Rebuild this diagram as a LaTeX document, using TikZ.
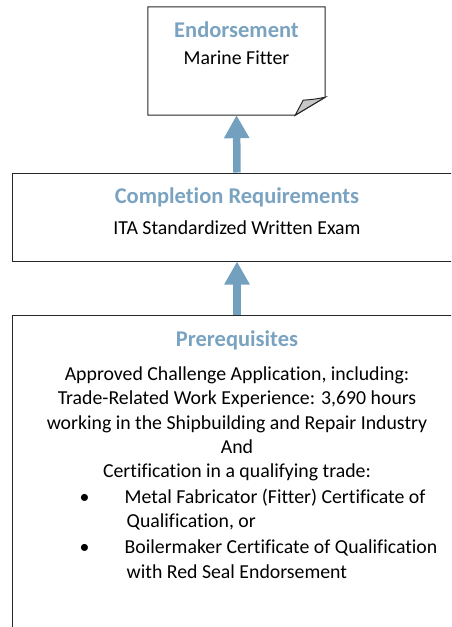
\documentclass[tikz,border=0pt]{standalone}
\usepackage{fontspec}
\setmainfont{Carlito}[Ligatures=NoCommon]
\usepackage{tikz}
\usetikzlibrary{
    arrows.meta,
    calc,
    positioning,
}
\definecolor{titleblue}{RGB}{122,163,193}
\definecolor{arrowblue}{RGB}{116,160,192}
\tikzstyle{bigarrow}=[-{Triangle[length=23pt, width=24pt]}, line width=7.5pt, draw=arrowblue]
\tikzset{
    boxline/.style={draw=black!85, line width=1pt},
    stagebox/.style={boxline, minimum width=450pt, inner sep=0pt},
    heading/.style={font=\fontsize{22.5}{27}\selectfont\bfseries, text=titleblue, inner sep=0pt},
    body/.style={font=\fontsize{19.8}{24.3}\selectfont, inner sep=0pt, align=center},
}

\begin{document}
\begin{tikzpicture}
    \useasboundingbox (0,0) rectangle (451pt,-627pt);
    \clip (0,0) rectangle (451pt,-627pt);
    % endorsement (folded corner)
    \node[minimum width=177pt, minimum height=108pt] (endorse) at (236.5pt,-61pt) {};
    \draw[boxline] (endorse.north west) -- (endorse.north east)
        -- ($(endorse.south east)+(0,18pt)$) -- ($(endorse.south east)+(-30pt,0)$)
        -- (endorse.south west) -- cycle;
    \filldraw[boxline, fill=black!22] ($(endorse.south east)+(0,18pt)$)
        .. controls ($(endorse.south east)+(-10pt,16pt)$) .. ($(endorse.south east)+(-22pt,15pt)$)
        -- ($(endorse.south east)+(-30pt,0)$) -- cycle;
    \node[heading, anchor=base] (endtitle) at ($(endorse.north)+(0,-31pt)$) {Endorsement};
    \node[body, anchor=base] (endtrade) at ($(endtitle.base)+(0,-27pt)$) {Marine Fitter};
    % completion requirements
    \node[stagebox, minimum height=88pt] (compl) at (237pt,-217pt) {};
    \node[heading, anchor=base] (compltitle) at ($(compl.north)+(0,-31pt)$) {Completion Requirements};
    \node[body, anchor=base] (complexam) at ($(compltitle.base)+(0,-31pt)$) {ITA Standardized Written Exam};
    % prerequisites
    \node[stagebox, minimum height=340pt, anchor=north] (prereq) at (237pt,-315pt) {};
    \node[heading, anchor=base] (pretitle) at ($(prereq.north)+(0,-31pt)$) {Prerequisites};
    \node[body, below=17pt of pretitle] (prebody) {Approved Challenge Application, including:\\
        Trade-Related Work Experience: 3,690 hours\\
        working in the Shipbuilding and Repair Industry\\
        And\\
        Certification in a qualifying trade:};
    \node[body, align=left, anchor=north west] (preitems) at ($(prebody.south -| prereq.west)+(68pt,-7pt)$)
        {\makebox[45pt][l]{\textbullet}Metal Fabricator (Fitter) Certificate of\\
        \hspace*{47pt}Qualification, or\\[2pt]
        \makebox[45pt][l]{\textbullet}Boilermaker Certificate of Qualification\\
        \hspace*{47pt}with Red Seal Endorsement};
    % arrows
    \draw[bigarrow] (prereq.north) -- (compl.south);
    \draw[bigarrow] (compl.north) -- (endorse.south);
\end{tikzpicture}
\end{document}
